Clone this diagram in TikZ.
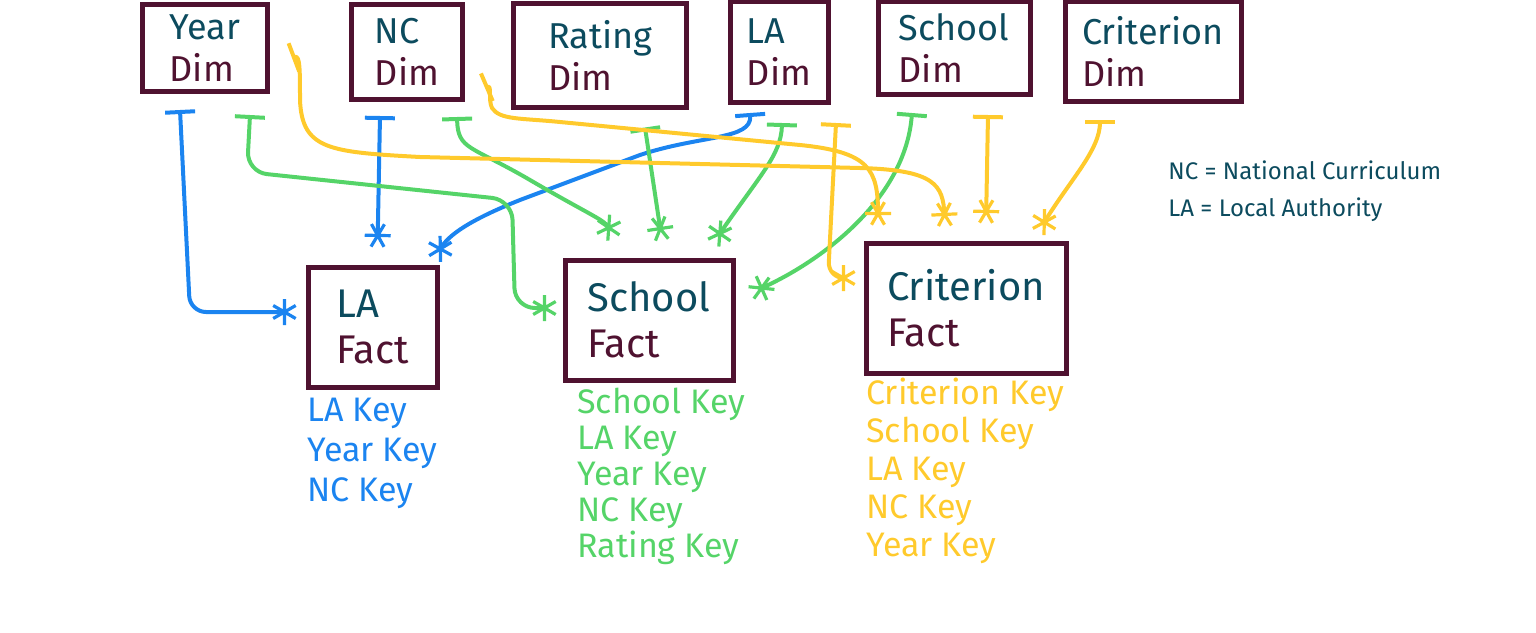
\documentclass[tikz,border=0pt]{standalone}
\usepackage{fontspec}
\setmainfont{Fira Sans}
\usetikzlibrary{arrows.meta,calc}
\definecolor{tealtxt}{HTML}{0C4B5E}
\definecolor{boxmaroon}{HTML}{4F1230}
\definecolor{kblue}{HTML}{1B84F0}
\definecolor{kgreen}{HTML}{55D468}
\definecolor{kyellow}{HTML}{FFCA2C}
\begin{document}
\begin{tikzpicture}[x=0.5pt,y=-0.5pt,
  box/.style={draw=boxmaroon, line width=2.5pt, inner sep=0pt, align=left,
    font=\fontsize{18pt}{21pt}\selectfont},
  factbox/.style={box, font=\fontsize{20pt}{23pt}\selectfont},
  conn/.style={line width=2pt, line cap=round, line join=round,
    {Bar[width=15pt,line width=2pt]}-{Rays[n=6,length=13pt,width=13pt,line width=1.6pt]}},
  bl/.style={conn, draw=kblue},
  gr/.style={conn, draw=kgreen},
  ye/.style={conn, draw=kyellow},
  keylist/.style={anchor=north west, inner sep=0pt, align=left},
]
\useasboundingbox (0,0) rectangle (1536,632);

% dimension boxes
\node[box, minimum width=62.5pt, minimum height=43.5pt] (yeardim) at (205,48)
  {\textcolor{tealtxt}{Year}\\\textcolor{boxmaroon}{Dim}};
\node[box, minimum width=55.5pt, minimum height=47.5pt] (ncdim) at (407,52)
  {\textcolor{tealtxt}{NC}\\\textcolor{boxmaroon}{Dim}};
\node[box, minimum width=86.5pt, minimum height=52pt] (ratingdim) at (600,55)
  {\textcolor{tealtxt}{Rating}\\\textcolor{boxmaroon}{Dim}};
\node[box, minimum width=49pt, minimum height=50.5pt] (ladim) at (779,52)
  {\textcolor{tealtxt}{LA}\\\textcolor{boxmaroon}{Dim}};
\node[box, minimum width=76pt, minimum height=46.5pt] (schooldim) at (954,48)
  {\textcolor{tealtxt}{School}\\\textcolor{boxmaroon}{Dim}};
\node[box, minimum width=88pt, minimum height=50pt] (critdim) at (1153,51)
  {\textcolor{tealtxt}{Criterion}\\\textcolor{boxmaroon}{Dim}};

% fact boxes
\node[factbox, minimum width=64.5pt, minimum height=60pt] (lafact) at (372.5,327)
  {\textcolor{tealtxt}{LA}\\\textcolor{boxmaroon}{Fact}};
\node[factbox, minimum width=84pt, minimum height=60pt] (schoolfact) at (649,320)
  {\textcolor{tealtxt}{School}\\\textcolor{boxmaroon}{Fact}};
\node[factbox, minimum width=100pt, minimum height=65pt] (critfact) at (966,308)
  {\textcolor{tealtxt}{Criterion}\\\textcolor{boxmaroon}{Fact}};

% key lists
\node[keylist, text=kblue, font=\fontsize{17pt}{20pt}\selectfont] (lakeys) at (307,398)
  {LA Key\\Year Key\\NC Key};
\node[keylist, text=kgreen, font=\fontsize{17pt}{18pt}\selectfont] (schoolkeys) at (577,388)
  {School Key\\LA Key\\Year Key\\NC Key\\Rating Key};
\node[keylist, text=kyellow, font=\fontsize{17pt}{19pt}\selectfont] (critkeys) at (866,378)
  {Criterion Key\\School Key\\LA Key\\NC Key\\Year Key};

% legend
\node[keylist, text=tealtxt, font=\fontsize{12pt}{18.5pt}\selectfont] (legend) at (1168,160)
  {NC = National Curriculum\\LA = Local Authority};

% blue connectors (LA Fact)
\draw[bl, rounded corners=8pt] ($(yeardim.south)+(-25,16)$) -- (190,312) -- ($(lafact.west)+(-9,-15)$);
\draw[bl] ($(ncdim.south)+(-27,14)$) -- ($(lafact.north)+(5,-17)$);
\draw[bl] ($(ladim.south)+(-29,8)$) .. controls (752,140) and (700,135) .. (640,155)
  -- (520,200) .. controls (470,220) and (448,235) .. ($(lafact.north east)+(-5,-5)$);

% green connectors (School Fact)
\draw[gr, rounded corners=10pt] ($(yeardim.south)+(45,21)$) -- (247,172) -- (512,200) -- (515,308) -- ($(schoolfact.west)+(-6,-12)$);
\draw[gr] ($(ncdim.south)+(50,15)$) .. controls (458,150) and (470,145) .. (530,180)
  .. controls (590,215) and (605,220) .. ($(schoolfact.north)+(-35,-19)$);
\draw[gr] ($(ratingdim.south)+(45,18)$) -- ($(schoolfact.north)+(13,-17)$);
\draw[gr] ($(ladim.south)+(3,18)$) .. controls (781,155) and (760,175) .. ($(schoolfact.north)+(64,-14)$);
\draw[gr] ($(schooldim.south)+(-42,16)$) .. controls (905,200) and (820,262) .. ($(schoolfact.east)+(15,-27)$);

% yellow connectors (Criterion Fact)
\draw[ye] ($(yeardim.east)+(22,10)$) .. controls (300,55) and (300,70) .. (300,100)
  .. controls (302,150) and (330,152) .. (420,157) -- (860,168)
  .. controls (935,170) and (943,185) .. ($(critfact.north)+(-21,-14)$);
\draw[ye] ($(ncdim.east)+(20,36)$) .. controls (492,85) and (488,100) .. (492,108)
  .. controls (500,120) and (520,118) .. (560,122) -- (800,145)
  .. controls (870,152) and (878,170) .. ($(critfact.north)+(-88,-15)$);
\draw[ye, rounded corners=8pt] ($(ladim.south)+(57,18)$) -- (828,278) -- ($(critfact.west)+(-8,-30)$);
\draw[ye] ($(schooldim.south)+(34,18)$) -- ($(critfact.north)+(20,-17)$);
\draw[ye] ($(critdim.south)+(-53,16)$) .. controls (1100,150) and (1070,180) .. ($(critfact.north)+(72,-8)$);
\end{tikzpicture}
\end{document}
